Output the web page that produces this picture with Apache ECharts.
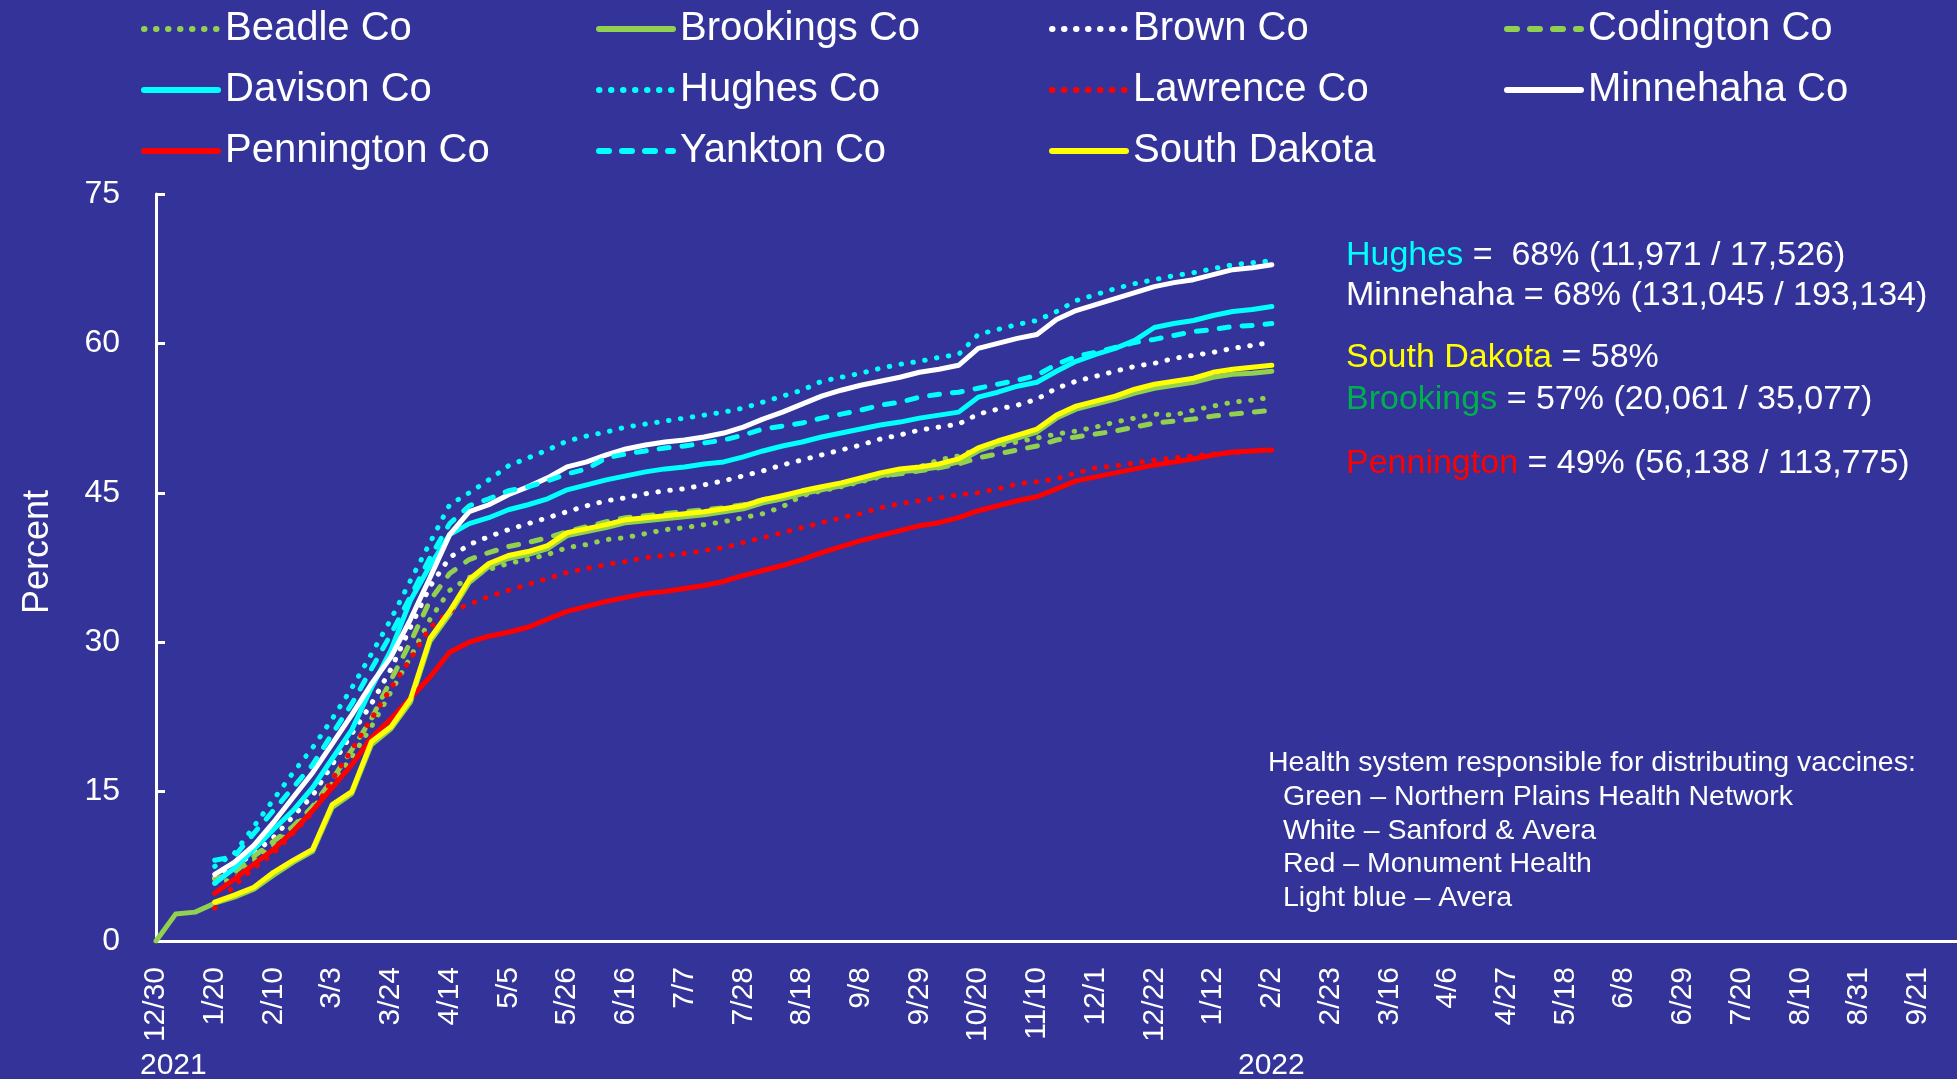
<!DOCTYPE html>
<html>
<head>
<meta charset="utf-8">
<script src="https://cdn.jsdelivr.net/npm/echarts@6/dist/echarts.min.js"></script>
<style>
  html, body { margin: 0; padding: 0; background: #333399; }
  #chart { width: 1957px; height: 1079px; }
</style>
</head>
<body>
<div id="chart"></div>
<script>
// Week-of tick labels, one every third week starting 12/30/2020
const tickLabels = ['12/30','1/20','2/10','3/3','3/24','4/14','5/5','5/26','6/16','7/7',
  '7/28','8/18','9/8','9/29','10/20','11/10','12/1','12/22','1/12','2/2',
  '2/23','3/16','4/6','4/27','5/18','6/8','6/29','7/20','8/10','8/31','9/21'];

// Weekly percent of population vaccinated. Counties start with the week of 1/20 (week 3).
const countyStartWeek = 3;
const brookingsStartWeek = 0;

const beadle = [5.8, 6.2, 8.1, 9.6, 11.3, 13.3, 15.8, 18.5, 21.5, 25.0,
  28.5, 32.3, 35.2, 36.5, 37.3, 37.9, 38.3, 38.8, 39.5, 39.8,
  40.3, 40.5, 40.9, 41.3, 41.5, 41.8, 42.1, 42.5, 42.9, 43.6,
  44.7, 45.2, 45.6, 46.1, 46.6, 47.0, 47.6, 48.3, 48.7, 49.4,
  49.7, 50.1, 50.5, 50.9, 51.2, 51.6, 52.1, 52.5, 52.9, 52.8,
  53.3, 53.7, 54.1, 54.3, 54.6];
const brookings = [0, 2.7, 2.9,
  3.8, 4.4, 5.2, 6.6, 7.9, 9.0, 13.4, 14.8, 19.7, 21.3,
  24.0, 30.1, 32.8, 36.0, 37.6, 38.4, 38.8, 39.4, 40.7, 41.1,
  41.5, 42.0, 42.2, 42.4, 42.6, 42.8, 43.1, 43.4, 44.0, 44.4,
  44.9, 45.3, 45.7, 46.2, 46.7, 47.1, 47.3, 47.6, 48.1, 49.2,
  49.9, 50.5, 51.1, 52.5, 53.4, 53.9, 54.4, 55.0, 55.5, 55.8,
  56.1, 56.6, 56.9, 57.0, 57.2];
const brown = [6.3, 7.5, 8.8, 10.4, 12.5, 14.6, 17.7, 20.8, 23.8, 27.3,
  31.5, 35.6, 38.5, 39.8, 40.6, 41.3, 41.9, 42.5, 43.1, 43.7,
  44.2, 44.5, 44.9, 45.2, 45.4, 45.8, 46.2, 46.7, 47.2, 47.8,
  48.3, 48.8, 49.3, 49.8, 50.4, 50.8, 51.3, 51.6, 51.9, 52.9,
  53.4, 53.8, 54.4, 55.5, 56.2, 56.7, 57.2, 57.7, 58.0, 58.5,
  58.8, 59.1, 59.5, 59.8, 60.1];
const codington = [6.2, 6.9, 8.5, 10.0, 11.5, 13.5, 16.2, 19.2, 22.3, 26.2,
  30.0, 34.2, 36.9, 38.3, 39.0, 39.6, 40.0, 40.5, 41.1, 41.6,
  42.1, 42.5, 42.7, 42.9, 43.1, 43.3, 43.5, 43.8, 44.3, 44.7,
  45.1, 45.5, 45.9, 46.3, 46.7, 46.9, 47.2, 47.5, 47.9, 48.5,
  48.9, 49.3, 49.7, 50.3, 50.6, 50.9, 51.2, 51.6, 52.0, 52.2,
  52.4, 52.7, 52.9, 53.1, 53.3];
const davison = [5.8, 7.3, 9.2, 11.2, 13.1, 15.4, 18.3, 21.2, 25.4, 29.2,
  34.2, 37.7, 40.8, 41.9, 42.5, 43.3, 43.8, 44.4, 45.3, 45.8,
  46.3, 46.7, 47.1, 47.4, 47.6, 47.9, 48.1, 48.6, 49.2, 49.7,
  50.1, 50.6, 51.0, 51.4, 51.8, 52.1, 52.5, 52.8, 53.1, 54.6,
  55.1, 55.7, 56.1, 57.2, 58.2, 58.9, 59.5, 60.3, 61.6, 62.0,
  62.3, 62.8, 63.2, 63.4, 63.7];
const hughes = [7.5, 8.8, 11.5, 14.2, 16.9, 19.4, 22.3, 25.4, 28.8, 32.3,
  36.2, 40.0, 43.8, 45.0, 46.3, 47.7, 48.5, 49.3, 50.2, 50.7,
  51.1, 51.6, 51.9, 52.2, 52.5, 52.8, 53.1, 53.5, 54.1, 54.7,
  55.3, 56.2, 56.6, 57.0, 57.5, 57.9, 58.2, 58.6, 58.9, 60.9,
  61.4, 61.9, 62.3, 63.2, 64.3, 64.9, 65.5, 66.0, 66.4, 66.8,
  67.1, 67.5, 67.9, 68.1, 68.3];
const lawrence = [3.3, 5.6, 7.3, 8.8, 10.8, 12.9, 16.2, 19.2, 22.3, 25.4,
  28.3, 31.5, 33.1, 33.8, 34.6, 35.2, 35.8, 36.4, 37.0, 37.4,
  37.8, 38.1, 38.5, 38.7, 38.9, 39.2, 39.5, 40.0, 40.5, 41.0,
  41.5, 42.0, 42.5, 42.9, 43.5, 43.9, 44.2, 44.5, 44.8, 45.0,
  45.4, 45.9, 46.1, 46.4, 47.0, 47.5, 47.7, 48.0, 48.3, 48.5,
  48.7, 48.9, 49.0, 49.2, 49.4];
const minnehaha = [6.7, 7.9, 9.6, 11.9, 14.4, 16.9, 19.8, 22.7, 25.8, 28.5,
  32.3, 36.5, 40.8, 43.1, 43.8, 44.8, 45.6, 46.5, 47.6, 48.1,
  48.8, 49.4, 49.8, 50.1, 50.3, 50.6, 51.0, 51.6, 52.4, 53.1,
  53.9, 54.7, 55.3, 55.8, 56.2, 56.6, 57.1, 57.4, 57.8, 59.5,
  60.0, 60.5, 60.9, 62.4, 63.3, 63.9, 64.5, 65.1, 65.7, 66.1,
  66.4, 66.9, 67.4, 67.6, 67.9];
const pennington = [4.8, 6.2, 7.7, 9.2, 11.0, 13.1, 15.4, 17.7, 20.4, 22.3,
  24.4, 26.5, 29.0, 30.0, 30.6, 31.0, 31.5, 32.3, 33.1, 33.6,
  34.1, 34.5, 34.9, 35.1, 35.4, 35.7, 36.1, 36.7, 37.2, 37.7,
  38.3, 39.0, 39.6, 40.2, 40.7, 41.2, 41.7, 42.0, 42.5, 43.2,
  43.7, 44.2, 44.6, 45.4, 46.2, 46.6, 47.0, 47.4, 47.8, 48.1,
  48.4, 48.8, 49.1, 49.2, 49.3];
const yankton = [8.1, 8.5, 10.8, 13.1, 15.4, 17.7, 20.8, 23.8, 27.3, 30.8,
  34.6, 38.5, 41.9, 43.7, 44.4, 45.2, 45.6, 46.2, 46.9, 47.4,
  48.5, 48.9, 49.2, 49.5, 49.7, 50.0, 50.3, 50.8, 51.4, 51.7,
  52.0, 52.5, 52.9, 53.3, 53.8, 54.1, 54.6, 54.9, 55.1, 55.5,
  55.9, 56.3, 56.8, 57.9, 58.7, 59.1, 59.6, 60.1, 60.4, 60.8,
  61.2, 61.4, 61.7, 61.8, 62.0];
const southDakota = [3.9, 4.6, 5.4, 6.9, 8.1, 9.2, 13.7, 15.0, 20.0, 21.5,
  24.3, 30.4, 33.1, 36.3, 37.9, 38.7, 39.1, 39.7, 41.0, 41.4,
  41.8, 42.3, 42.5, 42.7, 42.9, 43.1, 43.4, 43.7, 44.3, 44.7,
  45.2, 45.6, 46.0, 46.5, 47.0, 47.4, 47.6, 47.9, 48.4, 49.5,
  50.2, 50.8, 51.4, 52.8, 53.7, 54.2, 54.7, 55.4, 55.9, 56.2,
  56.5, 57.1, 57.4, 57.6, 57.8];

// Vaccinated / population counts quoted beside the chart
const hughesCounts = [11971, 17526];
const minnehahaCounts = [131045, 193134];
const brookingsCounts = [20061, 35077];
const penningtonCounts = [56138, 113775];

const FONT = '"Liberation Sans", Arial, Helvetica, sans-serif';
const GREEN = '#92D050', CYAN = '#00FFFF', RED = '#FF0000', WHITE = '#FFFFFF', YELLOW = '#FFFF00';
const DOT = [0.5, 11.5], DASH = [10, 13];

function lineSeries(name, values, start, color, dash) {
  return {
    name: name,
    type: 'line',
    data: values.map((v, i) => [start + i, v]),
    symbol: 'none',
    showSymbol: false,
    animation: false,
    itemStyle: { color: color },
    lineStyle: { color: color, width: 5, type: dash || 'solid', cap: 'round', join: 'round' },
    emphasis: { disabled: true }
  };
}

const series = [
  lineSeries('Beadle Co', beadle, countyStartWeek, GREEN, DOT),
  lineSeries('Brookings Co', brookings, brookingsStartWeek, GREEN),
  lineSeries('Brown Co', brown, countyStartWeek, WHITE, DOT),
  lineSeries('Codington Co', codington, countyStartWeek, GREEN, DASH),
  lineSeries('Davison Co', davison, countyStartWeek, CYAN),
  lineSeries('Hughes Co', hughes, countyStartWeek, CYAN, DOT),
  lineSeries('Lawrence Co', lawrence, countyStartWeek, RED, DOT),
  lineSeries('Minnehaha Co', minnehaha, countyStartWeek, WHITE),
  lineSeries('Pennington Co', pennington, countyStartWeek, RED),
  lineSeries('Yankton Co', yankton, countyStartWeek, CYAN, DASH),
  lineSeries('South Dakota', southDakota, countyStartWeek, YELLOW)
];

// Legend laid out in four columns (row-major reading order)
const legendColumns = [
  ['Beadle Co', 'Davison Co', 'Pennington Co'],
  ['Brookings Co', 'Hughes Co', 'Yankton Co'],
  ['Brown Co', 'Lawrence Co', 'South Dakota'],
  ['Codington Co', 'Minnehaha Co']
];
const legendLeft = [141, 596, 1049, 1504];

const legends = legendColumns.map((names, i) => ({
  orient: 'vertical',
  left: legendLeft[i],
  top: 7,
  itemWidth: 74,
  itemHeight: 12,
  itemGap: 17,
  selectedMode: false,
  padding: 0,
  data: names,
  // line-only key: hide the marker that line series draw in the middle
  itemStyle: { color: 'rgba(0,0,0,0)', borderWidth: 0, opacity: 0 },
  lineStyle: { width: 6, type: 'inherit', cap: 'round' },
  textStyle: { color: '#fff', fontSize: 40, fontFamily: FONT, lineHeight: 44, padding: [0, 0, 0, 2] }
}));

const last = arr => arr[arr.length - 1];
const fmt = n => n.toLocaleString('en-US');
const pct = arr => Math.round(last(arr)) + '%';

const rich = {
  h: { fill: CYAN, fontSize: 34, fontFamily: FONT },
  y: { fill: YELLOW, fontSize: 34, fontFamily: FONT },
  g: { fill: '#00B050', fontSize: 34, fontFamily: FONT },
  r: { fill: RED, fontSize: 34, fontFamily: FONT },
  w: { fill: '#fff', fontSize: 34, fontFamily: FONT }
};

const notes = [
  { y: 259, text: '{h|Hughes}{w| =  ' + pct(hughes) + ' (' + fmt(hughesCounts[0]) + ' / ' + fmt(hughesCounts[1]) + ')}' },
  { y: 299, text: '{w|Minnehaha = ' + pct(minnehaha) + ' (' + fmt(minnehahaCounts[0]) + ' / ' + fmt(minnehahaCounts[1]) + ')}' },
  { y: 361, text: '{y|South Dakota}{w| = ' + pct(southDakota) + '}' },
  { y: 403, text: '{g|Brookings}{w| = ' + pct(brookings) + ' (' + fmt(brookingsCounts[0]) + ' / ' + fmt(brookingsCounts[1]) + ')}' },
  { y: 467, text: '{r|Pennington}{w| = ' + pct(pennington) + ' (' + fmt(penningtonCounts[0]) + ' / ' + fmt(penningtonCounts[1]) + ')}' }
];

const healthLines = [
  'Health system responsible for distributing vaccines:',
  'Green \u2013 Northern Plains Health Network',
  'White \u2013 Sanford & Avera',
  'Red \u2013 Monument Health',
  'Light blue \u2013 Avera'
];

const graphics = [];
notes.forEach(n => graphics.push({
  type: 'text', left: 1346, top: n.y - 20, silent: true,
  style: { text: n.text, rich: rich, fill: '#fff', font: '34px ' + FONT }
}));
healthLines.forEach((t, i) => graphics.push({
  type: 'text', left: i === 0 ? 1268 : 1283, top: 749 + i * 33.7, silent: true,
  style: { text: t, fill: '#fff', font: '28.5px ' + FONT }
}));
graphics.push({ type: 'text', left: 140, top: 1051, silent: true, style: { text: '2021', fill: '#fff', font: '30px ' + FONT } });
graphics.push({ type: 'text', left: 1238, top: 1051, silent: true, style: { text: '2022', fill: '#fff', font: '30px ' + FONT } });
// y-axis title
graphics.push({
  type: 'text', x: 38, y: 552, rotation: Math.PI / 2, silent: true,
  style: { text: 'Percent', fill: '#fff', font: '36px ' + FONT, align: 'center', verticalAlign: 'middle' }
});

const chart = echarts.init(document.getElementById('chart'), null, { renderer: 'canvas' });
chart.setOption({
  backgroundColor: '#333399',
  animation: false,
  textStyle: { fontFamily: FONT },
  legend: legends,
  grid: { left: 156, right: 0, top: 194, bottom: 138, containLabel: false, outerBoundsMode: 'none' },
  xAxis: {
    type: 'value',
    min: 0,
    max: 92,
    interval: 3,
    axisLine: { show: true, onZero: false, lineStyle: { color: '#fff', width: 3 } },
    axisTick: { show: false },
    splitLine: { show: false },
    axisLabel: {
      rotate: 90,
      color: '#fff',
      fontSize: 30,
      fontFamily: FONT,
      margin: 26,
      showMaxLabel: false,
      hideOverlap: false,
      formatter: v => tickLabels[Math.round(v / 3)] || ''
    }
  },
  yAxis: {
    type: 'value',
    min: 0,
    max: 75,
    interval: 15,
    axisLine: { show: true, lineStyle: { color: '#fff', width: 3 } },
    axisTick: { show: true, inside: true, length: 9, lineStyle: { color: '#fff', width: 3 } },
    splitLine: { show: false },
    axisLabel: { color: '#fff', fontSize: 32, fontFamily: FONT, margin: 36 }
  },
  graphic: graphics,
  series: series
});
</script>
</body>
</html>
